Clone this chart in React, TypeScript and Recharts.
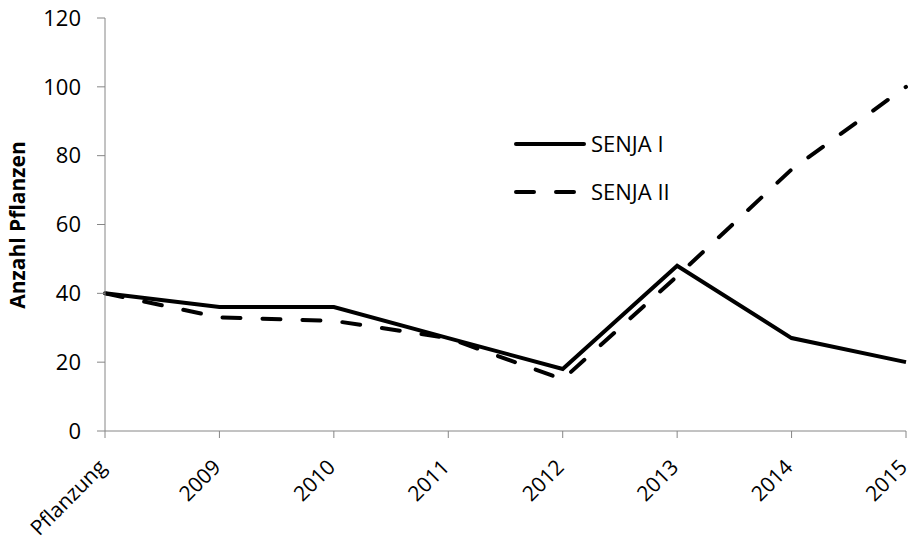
import { Line, LineChart, XAxis, YAxis } from "recharts";

const categories = ["Pflanzung", "2009", "2010", "2011", "2012", "2013", "2014", "2015"];
const senja1 = [40, 36, 36, 27, 18, 48, 27, 20];
const senja2 = [40, 33, 32, 27, 15, 45, 76, 100];
const yTicks = [0, 20, 40, 60, 80, 100, 120];

const chartData = categories.map((c, i) => ({ name: c, s1: senja1[i], s2: senja2[i] }));

const font = "'Open Sans', sans-serif";
const axisColor = "#868686";

function LegendBox() {
  const items = [
    { label: "SENJA I", dash: undefined },
    { label: "SENJA II", dash: "18 22" },
  ];
  return (
    <svg width={200} height={100}>
      {items.map((it, i) => (
        <g key={it.label}>
          <line
            x1={3}
            x2={71}
            y1={18 + i * 48}
            y2={18 + i * 48}
            stroke="#000"
            strokeWidth={4}
            strokeLinecap="round"
            strokeDasharray={it.dash}
          />
          <text x={78} y={18 + i * 48} dy="0.35em" fontFamily={font} fontSize={22} fill="#000">
            {it.label}
          </text>
        </g>
      ))}
    </svg>
  );
}

export default function App() {
  return (
    <div style={{ position: "absolute", left: 0, top: 0, width: 912, height: 540, background: "#fff" }}>
      <LineChart
        width={912}
        height={540}
        data={chartData}
        margin={{ top: 18, right: 6, bottom: 0, left: 0 }}
      >
        <XAxis
          dataKey="name"
          height={109}
          interval={0}
          stroke={axisColor}
          tickSize={7}
          tickMargin={2}
          tick={{ fill: "#000", fontSize: 21, fontFamily: font, angle: -45, textAnchor: "end", dx: -8, dy: 18 }}
        />
        <YAxis
          width={105}
          domain={[0, 120]}
          ticks={yTicks}
          stroke={axisColor}
          tickSize={8}
          tickMargin={16}
          tick={{ fill: "#000", fontSize: 22, fontFamily: font }}
          label={{
            content: () => (
              <text
                x={25}
                y={225}
                transform="rotate(-90 25 225)"
                textAnchor="middle"
                fontFamily={font}
                fontWeight="bold"
                fontSize={21}
                fill="#000"
              >
                Anzahl Pflanzen
              </text>
            ),
          }}
        />
        <Line
          dataKey="s1"
          name="SENJA I"
          type="linear"
          stroke="#000"
          strokeWidth={4}
          dot={false}
          isAnimationActive={false}
        />
        <Line
          dataKey="s2"
          name="SENJA II"
          type="linear"
          stroke="#000"
          strokeWidth={4}
          strokeDasharray="18 22"
          strokeLinecap="round"
          dot={false}
          isAnimationActive={false}
        />
      </LineChart>
      <div style={{ position: "absolute", left: 513, top: 126 }}>
        <LegendBox />
      </div>
    </div>
  );
}
